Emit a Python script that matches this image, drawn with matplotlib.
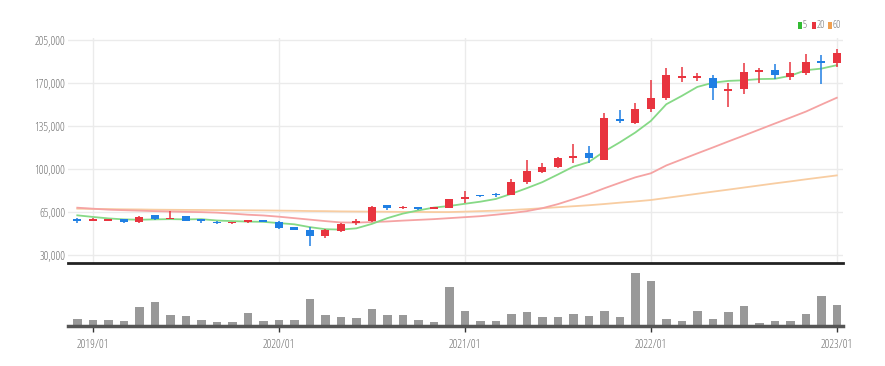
import matplotlib
matplotlib.use("Agg")
import matplotlib.pyplot as plt
from matplotlib.patches import Rectangle
import numpy as np

plt.rcParams['font.family'] = ['Open Sans', 'DejaVu Sans']
plt.rcParams['font.stretch'] = 'condensed'

# monthly candles 2018/12 .. 2023/01
months = ["2018/12"] + [f"{y}/{m:02d}" for y in range(2019, 2023) for m in range(1, 13)] + ["2023/01"]

opens = [59200, 57700, 57800, 59200, 56500, 62200, 59500, 61600, 59200, 57000,
         55800, 56500, 58200, 57000, 52500, 50300, 45700, 49200, 56000, 57500,
         70300, 68200, 68700, 67400, 68400, 75600, 78600, 80000, 79000, 89700,
         97900, 101900, 108700, 113000, 107600, 140600, 137800, 148900, 158000, 174300,
         173800, 173700, 163500, 165300, 178800, 180700, 174600, 178500, 187700, 186300]
highs = [60000, 59800, 59500, 59600, 61500, 62500, 65500, 61800, 59600, 57300,
         57000, 58800, 58600, 57500, 52800, 52500, 51000, 56000, 59200, 69500,
         70500, 70000, 69000, 69300, 75800, 82000, 78900, 80300, 91600, 107500,
         104500, 109500, 120000, 119000, 145600, 148000, 153700, 172600, 182000, 183000,
         178000, 176600, 170000, 186000, 182600, 185300, 186900, 194000, 193000, 197700]
lows = [56000, 57300, 57400, 56200, 56000, 58600, 59000, 57500, 55700, 55600,
        55500, 56200, 56500, 51300, 50300, 37600, 43600, 49000, 54800, 57000,
        66500, 67800, 67000, 67100, 68000, 72000, 77300, 77600, 78600, 88000,
        97000, 100500, 104500, 104800, 107000, 137500, 137000, 146400, 156200, 170500,
        171800, 156200, 150500, 161000, 170400, 173400, 172600, 176600, 169400, 183000]
closes = [57800, 59200, 59000, 56500, 61200, 59000, 60500, 57800, 57300, 55800,
          56700, 58400, 56800, 52300, 50600, 45200, 50300, 54900, 57300, 68700,
          68600, 69200, 67500, 69000, 75400, 77400, 77700, 78700, 89700, 98400,
          101900, 108600, 110800, 108600, 141600, 138800, 148600, 157800, 176600, 175600,
          175300, 165900, 165000, 179300, 180400, 176200, 178500, 187400, 186200, 194200]

ma5 = [62300, 61000, 59800, 59000, 58700, 59000, 59200, 59000, 59200, 58100,
       57600, 57200, 57000, 56000, 55000, 52700, 51000, 50700, 51700, 55300,
       60000, 63700, 66300, 68600, 69900, 71700, 73400, 75600, 79800, 84400,
       89300, 95500, 101900, 105700, 114300, 121700, 129700, 139100, 152700, 159500,
       166800, 170200, 171700, 172200, 173200, 173400, 175900, 180400, 181700, 184500]
ma20 = [68500, 67700, 66900, 66500, 66100, 65700, 65400, 65100, 64900, 64500,
        63700, 62800, 62200, 61200, 60000, 58800, 57600, 56500, 56400, 56800,
        57300, 58000, 58600, 59200, 60000, 60800, 61600, 62800, 64100, 65700,
        68100, 71400, 75400, 79500, 84300, 88800, 93200, 96500, 102900, 107800,
        112700, 117500, 122400, 127200, 132100, 137000, 141800, 146700, 152400, 158000]
ma60 = [67700, 67500, 67400, 67200, 67100, 66900, 66800, 66700, 66650, 66550,
        66500, 66400, 66300, 66150, 66000, 65800, 65700, 65500, 65400, 65300,
        65200, 65100, 65050, 64950, 64950, 65300, 65700, 66100, 66650, 67300,
        68100, 68900, 69700, 70500, 71500, 72600, 73600, 74750, 76450, 78150,
        79850, 81550, 83200, 84900, 86600, 88300, 89900, 91600, 93200, 94800]
volumes = [73, 60, 60, 53, 193, 240, 113, 103, 60, 37,
           43, 130, 53, 57, 60, 270, 113, 93, 77, 170,
           113, 107, 60, 37, 387, 153, 47, 47, 117, 137,
           87, 87, 117, 103, 147, 87, 533, 447, 70, 47,
           147, 70, 137, 200, 33, 47, 47, 117, 300, 207]

ytick_values = [30000, 65000, 100000, 135000, 170000, 205000]
xtick_labels = ["2019/01", "2020/01", "2021/01", "2022/01", "2023/01"]
legend_labels = ["5", "20", "60"]

UP = '#e8343f'
DOWN = '#1f7fe3'
MA_COLORS = ['#86d986', '#f5a3a3', '#f8cda2']
LEG_COLORS = ['#33bb33', '#e8343f', '#f0a050']
GRID = '#ebebeb'
TXT = '#6e6e6e'

W, H = 885, 366
fig = plt.figure(figsize=(W / 100, H / 100), dpi=100)
fig.patch.set_facecolor('white')

def frac_x(px):
    return px / W

def frac_y(py):
    return 1 - py / H

left, right = 68, 843
ax = fig.add_axes([frac_x(left), frac_y(263), frac_x(right - left), (263 - 38) / H])
axv = fig.add_axes([frac_x(left), frac_y(326), frac_x(right - left), (326 - 266) / H])

x = np.arange(len(months))
xlim = (-0.6, len(months) - 0.6)
tick_pos = [months.index(m) for m in xtick_labels]

# main panel
ax.set_xlim(*xlim)
ax.set_ylim(23500, 206620)
ax.set_yticks(ytick_values)
ax.set_yticklabels([f"{v:,}" for v in ytick_values])
ax.set_xticks(tick_pos)
ax.tick_params(axis='x', length=0, labelbottom=False)
ax.tick_params(axis='y', length=0, pad=2, labelsize=8.5, labelcolor=TXT)
ax.grid(True, color=GRID, linewidth=1)
ax.set_axisbelow(True)
for s in ['left', 'right', 'top']:
    ax.spines[s].set_visible(False)
ax.spines['bottom'].set_color('#222222')
ax.spines['bottom'].set_linewidth(2)

# moving averages
ax.plot(x, ma60, color=MA_COLORS[2], lw=1.3, zorder=2)
ax.plot(x, ma20, color=MA_COLORS[1], lw=1.3, zorder=2)
ax.plot(x, ma5, color=MA_COLORS[0], lw=1.3, zorder=2)

# candles
o = np.array(opens); c = np.array(closes); hi = np.array(highs); lo = np.array(lows)
cols = [UP if cc >= oo else DOWN for oo, cc in zip(o, c)]
ax.vlines(x, lo, hi, colors=cols, linewidth=1.1, zorder=3)
bottoms = np.minimum(o, c)
heights = np.maximum(np.abs(c - o), 900)
ax.bar(x, heights, bottom=bottoms, width=0.52, color=cols, linewidth=0, zorder=4)

# volume panel
axv.set_xlim(*xlim)
axv.set_ylim(0, 600)
axv.bar(x, volumes, width=0.55, color='#999999', linewidth=0, zorder=2)
axv.set_yticks([])
axv.set_xticks(tick_pos)
axv.set_xticklabels(xtick_labels)
axv.tick_params(axis='x', length=4, width=1, color='#333333', pad=5, labelsize=8.5, labelcolor=TXT)
for s in ['left', 'right', 'top']:
    axv.spines[s].set_visible(False)
axv.spines['bottom'].set_color('#555555')
axv.spines['bottom'].set_linewidth(2.5)
axv.patch.set_alpha(0)

# legend
leg_x = [798, 812, 828]
for lx, lab, col in zip(leg_x, legend_labels, LEG_COLORS):
    fig.patches.append(Rectangle((frac_x(lx), frac_y(29)), 3.5 / W, 7 / H,
                                 transform=fig.transFigure, facecolor=col, edgecolor='none'))
    fig.text(frac_x(lx + 4.5), frac_y(25.5), lab, fontsize=7.5, color=TXT, va='center', ha='left')

fig.savefig('out.png', dpi=100, facecolor='white')
